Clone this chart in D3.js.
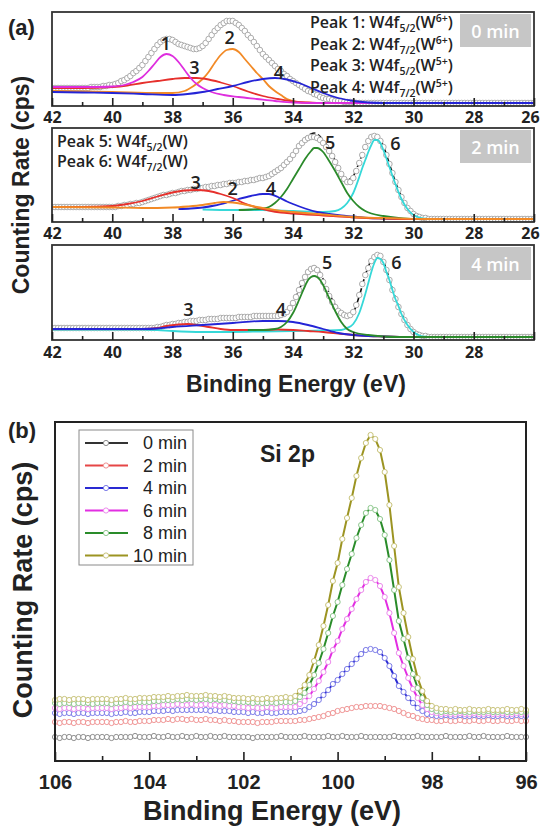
<!DOCTYPE html>
<html>
<head>
<meta charset="utf-8">
<script src="https://cdn.jsdelivr.net/npm/d3@7"></script>
<style>
  body { margin: 0; background: #fff; }
  svg { display: block; }
</style>
</head>
<body>
<svg id="chart" width="540" height="830"></svg>
<script>
// ---------- (a) W4f spectra, 42 -> 26 eV, one point per 0.1 eV ----------
const wEnergy = d3.range(161).map(i => +(42 - i * 0.1).toFixed(1));

const s1Counts = [
  18,18,18,18,18,18,18,18,18,18,18,18,18,19,19,
  19,19,20,20,21,21,
  22,23,25,26,28, 30,33,35,38,41, 45,49,53,57,61, 64,66,67,67,66,
  64,62,61,60,59, 58,57,57,58,60, 63,67,71,75,78, 81,83,85,85,85,
  83,81,78,75,71, 68,64,60,56,52, 49,46,43,40,37, 35,32,30,27,25,
  23,21,19,17,15, 14,12,11,9,8, 7,7,6,5,5, 5,4,4,4,4,
  3,3,3,3,3,3,3,3,3,3, 3,3,3,3,3,3,3,3,3,3, 3,3,3,3,3,3,3,3,3,3,
  3,3,3,3,3,3,3,3,3,3, 3,3,3,3,3,3,3,3,3,3, 3,3,3,3,3,3,3,3,3,3
];
const s2Counts = [
  15,15,15,15,15,15,15,15,15,15,15,15,15,15,15,15,15,15,15,15,15,
  15,16,16,17,17,18,18,19,19,20,
  21,22,23,24,25,26,27,27,28,29,
  29,30,31,31,32,32,33,33,34,34,
  35,35,36,36,37,37,38,38,39,39,
  39,40,40,41,41,42,42,43,44,44,
  45,46,48,50,52,54,57,60,63,67,
  71,76,79,82,84,85,85,84,82,79,
  75,71,66,60,54,48,43,40,40,44,
  51,59,67,75,81,85,86,85,81,75,
  67,58,49,40,32,25,19,14,11,8,
  6,5,4,4,3,
  3,3,3,3,3,3,3,3,3,3, 3,3,3,3,3,3,3,3,3,3, 3,3,3,3,3,3,3,3,3,3, 3,3,3,3,3
];
const s3Counts = [
  12,12,12,12,12,12,12,12,12,12, 12,12,12,12,12,12,12,12,12,12,
  12,12,12,12,12,12,12,12,12,12, 12,12,12,12,12,
  13,13,14,15,15,16,
  16,17,17,18,18,19,19,19,20,20,
  20,21,21,21,21,22,22,22,22,22,
  22,23,23,23,23,23,24,24,24,24,
  24,24,24,24,24,25,26,28,32,37,
  43,50,57,63,68,71,72,70,65,58,
  51,44,38,33,29,27,25,24,25,28,
  35,45,56,65,72,79,83,85,84,78,
  70,60,50,41,33,26,20,15,11,8,
  6,5,4,4,3,
  3,3,3,3,3,3,3,3,3,3, 3,3,3,3,3,3,3,3,3,3, 3,3,3,3,3,3,3,3,3,3, 3,3,3,3,3
];

// fitted components [eV, counts]
const s1Peak1 = [[42,19],[40.5,19],[40,19.5],[39.6,21],[39.3,24],[39,29],[38.8,35],[38.6,42],[38.4,49],[38.2,52],[38,50],[37.8,44],[37.6,36],[37.4,28],[37.2,22],[37,18],[36.7,14],[36.3,11],[35.8,9],[35.2,7],[34.6,5],[34,3.5],[33,3],[26,3]];
const s1Peak2 = [[42,15],[40,14],[38.5,13],[38,13],[37.6,15],[37.3,20],[37,27],[36.8,34],[36.6,43],[36.4,51],[36.2,56],[36,57],[35.8,54],[35.6,47],[35.4,40],[35.2,33],[35,27],[34.8,20],[34.6,15],[34.4,11],[34.2,7],[34,5],[33.7,3.5],[33,3],[26,3]];
const s1Peak3 = [[42,18],[41,18],[40,19],[39.5,20.5],[39,23],[38.5,25],[38,27],[37.6,28],[37.2,28],[36.8,26.5],[36.4,23.5],[36,20],[35.5,14.5],[35,10],[34.5,7],[34,4.5],[33.5,3.5],[33,3],[26,3]];
const s1Peak4 = [[42,14],[41,13.5],[40,13],[39,12],[38,11],[37.5,12],[37,14],[36.5,17],[36,20],[35.5,24],[35,27],[34.6,28],[34.2,26.5],[33.8,23],[33.4,18],[33,13],[32.5,8],[32,5],[31.5,3.5],[31,3],[26,3]];

const s2Peak2 = [[42,15],[40,14.5],[39,14],[38,14.5],[37.5,15.5],[37,17],[36.6,19],[36.3,20],[36,19.5],[35.6,17.5],[35.2,15],[34.8,13],[34.4,11],[34,10],[33,7.5],[32,5],[31,4],[30,3.2],[29.5,3],[26,3]];
const s2Peak3 = [[42,15],[41,15],[40,16],[39.5,18],[39,21],[38.5,25.5],[38,29.5],[37.6,31.5],[37.2,32],[36.8,31],[36.4,28],[36,24],[35.6,18.5],[35.2,14.5],[34.8,11.5],[34.4,9.5],[34,8.5],[33,6.5],[32,4.5],[31,3.5],[30,3],[26,3]];
const s2Peak4 = [[37.8,13],[37.4,13.5],[37,14.5],[36.6,16.5],[36.2,19.5],[35.8,23],[35.4,26],[35,28],[34.8,28],[34.5,25],[34.2,20.5],[34,18],[33.6,13.5],[33.2,10],[32.8,8],[32.4,6.5],[32,5.5],[31.5,4],[31,3.5],[30,3],[26,3]];
const s2Peak5 = [[35.8,12],[35.4,12.5],[35,13.5],[34.8,15],[34.6,19],[34.4,25],[34.2,33],[34,43],[33.8,53],[33.6,63],[33.4,71],[33.3,74],[33.2,74],[33,70],[32.8,61],[32.6,51],[32.4,40],[32.2,29],[32,21],[31.8,15],[31.6,11],[31.4,8.5],[31,6],[30.5,4],[30,3],[26,3]];
const s2Peak6 = [[37,12.5],[36,12],[35,12],[34,11],[33,10],[32.6,11],[32.4,13.5],[32.2,19],[32,29],[31.8,45],[31.7,54],[31.6,62],[31.5,70],[31.4,77],[31.3,82],[31.2,82],[31.1,79],[31,72],[30.8,55],[30.6,38],[30.5,30],[30.4,23],[30.2,13],[30,7],[29.8,4.5],[29.6,3.3],[29.4,3],[26,3]];
const s2Fit = [[42,15],[40,15],[39,20],[38,29],[37,34],[36,39],[35,44],[34.6,50],[34.3,57],[34,67],[33.8,76],[33.6,84],[33.4,88],[33.3,89],[33.2,88],[33,82],[32.8,73],[32.6,61],[32.4,49],[32.3,44],[32.2,42],[32.1,43],[32,46],[31.8,60],[31.6,76],[31.4,85],[31.3,86],[31.2,85],[31,76],[30.8,58],[30.6,40],[30.4,25],[30.2,14],[30,7],[29.8,4],[29.5,3],[26,3]];

const s3Peak3 = [[42,11],[39,11],[38.5,12],[38.2,14],[37.8,15.5],[37.5,16],[37.2,15],[36.8,13],[36.4,11],[36,10],[35,10],[34.5,10.5],[34,10],[33.5,9],[33,8],[32.5,6.5],[32,5],[31.5,4],[31,3.5],[30,3],[26,3]];
const s3Peak4 = [[42,11],[39,11],[38.5,11.5],[38,13],[37,15],[36,17],[35,19],[34.5,19],[34,18],[33.5,15],[33,11],[32.5,7],[32,5],[31.5,4],[31,3.5],[30,3],[26,3]];
const s3Peak5 = [[35.5,10],[35,10],[34.6,11],[34.4,13],[34.2,18],[34,27],[33.8,40],[33.6,54],[33.5,60],[33.4,63],[33.3,64],[33.2,63],[33.1,60],[33,55],[32.8,42],[32.6,29],[32.4,18],[32.2,11],[32,8],[31.5,5],[31,3.5],[30.5,3],[26,3]];
const s3Peak6 = [[42,10.5],[39,10.5],[38.5,10],[38,9],[37,8],[36,8],[35,8.5],[34,9],[33,9.5],[32.4,10],[32.2,12],[32,16],[31.8,27],[31.6,46],[31.5,57],[31.4,68],[31.3,77],[31.2,82],[31.1,81],[31,77],[30.9,68],[30.8,60],[30.7,50],[30.6,41],[30.5,34],[30.4,26],[30.2,15],[30,8],[29.8,4.5],[29.6,3.3],[29.4,3],[26,3]];
const s3Fit = [[42,12],[38.6,12],[38,16],[37,20],[36,22],[35,24],[34.4,25],[34.2,28],[34,37],[33.8,50],[33.6,63],[33.4,72],[33.3,74],[33.2,72],[33,61],[32.8,47],[32.6,35],[32.4,28],[32.2,25],[32,28],[31.8,44],[31.6,65],[31.4,80],[31.2,86],[31,79],[30.8,61],[30.6,42],[30.4,27],[30.2,16],[30,8],[29.8,4.5],[29.5,3],[26,3]];

// peak number labels [text, eV, counts]
const s1Marks = [['1', 38.23, 63], ['2', 36.1, 69], ['3', 37.27, 39], ['4', 34.47, 34]];
const s2Marks = [['3', 37.23, 40], ['2', 36.0, 34], ['4', 34.73, 34], ['5', 32.77, 80], ['6', 30.6, 79]];
const s3Marks = [['3', 37.47, 31], ['4', 34.4, 31], ['5', 32.87, 78], ['6', 30.57, 78]];

const wMajor = [42, 40, 38, 36, 34, 32, 30, 28, 26];
const wMinor = [41, 39, 37, 35, 33, 31, 29, 27];
const peakNames = [['1', '5/2', '6+'], ['2', '7/2', '6+'], ['3', '5/2', '5+'], ['4', '7/2', '5+']];
const peakNamesW = [['5', '5/2', ''], ['6', '7/2', '']];

// ---------- (b) Si 2p, 106 -> 96 eV, one point per 0.1 eV ----------
const siEnergy = d3.range(101).map(i => +(106 - i * 0.1).toFixed(1));
const si0 = [
  24,23,24,24,23,24,24,23,24,24, 24,24,23,24,24,24,24,25,24,24,
  24,25,24,24,25,24,24,25,24,24, 25,24,24,25,24,24,25,24,24,24,
  24,24,23,24,24,24,24,24,25,24, 24,24,24,25,24,24,24,24,25,24,
  24,25,24,24,24,25,24,24,24,24, 24,24,25,24,24,24,24,25,24,24,
  24,24,24,25,24,24,24,24,25,24, 24,25,24,24,24,24,25,24,24,24, 24
];
const si2 = [
  39,38,39,39,38,39,39,38,39,39, 39,39,38,39,39,40,39,39,40,40,
  40,41,41,41,42,41,42,42,41,42, 41,41,42,41,41,40,41,40,40,39,
  39,39,39,38,39,39,39,40,40,40, 40,40,41,41,42,43,44,45,47,48,
  50,51,52,53,54,54,55,55,55,55, 54,53,52,50,48,46,45,43,42,41,
  41,40,40,41,40,40,41,40,40,41, 40,40,41,40,40,41,40,40,41,40, 40
];
const si4 = [
  48,47,48,48,47,48,48,47,48,48, 48,48,47,48,48,49,48,48,49,49,
  49,50,50,50,51,50,51,51,51,51, 51,51,51,50,51,50,50,50,49,49,
  49,48,49,48,48,49,48,48,49,49, 49,49,50,51,54,57,61,66,71,77,
  81,87,92,97,102,107,111,112,111,109, 103,95,85,75,69,63,58,53,50,47,
  46,45,45,46,45,45,46,45,45,46, 45,45,46,45,45,46,45,45,46,45, 45
];
const si6 = [
  53,52,53,53,52,53,53,52,53,53, 53,53,52,53,53,54,53,54,54,54,
  54,55,55,56,56,56,57,56,56,57, 56,56,57,56,56,55,56,55,55,54,
  54,53,54,53,53,54,53,53,54,54, 54,54,57,60,65,72,80,89,99,111,
  120,132,142,152,162,171,179,183,181,175, 164,148,128,108,95,83,72,63,56,52,
  49,48,47,48,47,47,48,47,47,48, 47,47,48,47,47,48,47,47,48,47, 47
];
const si8 = [
  58,57,58,58,57,58,58,58,57,58, 58,58,57,58,58,59,58,59,59,59,
  59,60,60,61,61,61,62,61,62,62, 61,62,62,61,62,61,61,60,60,59,
  59,59,58,59,58,58,59,58,59,59, 59,60,64,68,76,86,98,112,128,145,
  159,176,192,207,223,236,248,253,251,242, 226,201,171,140,122,103,87,73,63,56,
  52,50,49,50,49,49,50,49,49,50, 49,49,50,49,49,50,49,49,50,49, 49
];
const si10 = [
  61,62,62,61,62,62,62,61,62,62, 62,62,61,62,62,63,62,62,63,63,
  63,64,64,64,65,64,65,65,66,65, 65,65,66,65,65,64,65,64,63,63,
  63,62,63,62,62,63,62,63,63,64, 63,65,70,76,86,100,116,135,156,180,
  198,222,243,263,285,303,318,326,322,311, 289,256,215,174,148,124,102,83,70,60,
  55,53,52,52,51,52,51,51,52,51, 51,51,52,51,51,51,52,51,51,52, 51
];
const siSeries = [
  { name: '0 min', values: si0, line: '#333333', dot: '#8c8c8c' },
  { name: '2 min', values: si2, line: '#e64646', dot: '#f09494' },
  { name: '4 min', values: si4, line: '#2a2ad2', dot: '#7c7ce8' },
  { name: '6 min', values: si6, line: '#e22ee2', dot: '#ec8cec' },
  { name: '8 min', values: si8, line: '#2a8c2a', dot: '#8ec88e' },
  { name: '10 min', values: si10, line: '#9c9422', dot: '#c9c47c' }
];
const siMajor = [106, 104, 102, 100, 98, 96];
const siMinor = [105, 103, 101, 99, 97];

// ---------- drawing ----------
const FA = "'Open Sans', 'DejaVu Sans', sans-serif";
const FB = "'Liberation Sans', Arial, sans-serif";
const svg = d3.select('#chart');

const C = {
  magenta: '#de2ede', red: '#e6302c', orange: '#f28a26',
  blue: '#2424d6', green: '#2b8a2b', cyan: '#36d8d8'
};

function xAxis(g, x, y0, majors, labels, minors, majLen, minLen, pad, font) {
  const major = d3.axisBottom(x).tickValues(majors).tickSize(-majLen).tickPadding(pad)
    .tickFormat(d => labels.includes(d) ? d : '');
  const ga = g.append('g').attr('transform', `translate(0,${y0})`).call(major);
  ga.select('.domain').remove();
  ga.selectAll('line').attr('stroke', '#222').attr('stroke-width', 1.6);
  ga.selectAll('text').attr('fill', '#222')
    .attr('font-family', font.family).attr('font-size', font.size).attr('font-weight', font.weight);

  const minor = d3.axisBottom(x).tickValues(minors).tickSize(-minLen).tickFormat('');
  const gm = g.append('g').attr('transform', `translate(0,${y0})`).call(minor);
  gm.select('.domain').remove();
  gm.selectAll('line').attr('stroke', '#222').attr('stroke-width', 1.6);
  return ga;
}

// ----- panel (a) -----
const xW = d3.scaleLinear().domain([42, 26]).range([52, 534]);

const subplots = [
  { top: 12, bottom: 106, counts: s1Counts, pad: 6, tag: '0 min', labels: wMajor, fit: null,
    comps: [[s1Peak2, C.orange], [s1Peak3, C.red], [s1Peak1, C.magenta], [s1Peak4, C.blue]], marks: s1Marks },
  { top: 128, bottom: 222, counts: s2Counts, pad: 6, tag: '2 min', labels: wMajor, fit: s2Fit,
    comps: [[s2Peak6, C.cyan], [s2Peak5, C.green], [s2Peak4, C.blue], [s2Peak3, C.red], [s2Peak2, C.orange]], marks: s2Marks },
  { top: 245, bottom: 340, counts: s3Counts, pad: 7, tag: '4 min', labels: wMajor.slice(0, -1), fit: s3Fit,
    comps: [[s3Peak6, C.cyan], [s3Peak3, C.red], [s3Peak4, C.blue], [s3Peak5, C.green]], marks: s3Marks }
];

subplots.forEach(sp => {
  const y = d3.scaleLinear().domain([0, sp.bottom - sp.top]).range([sp.bottom, sp.top]);
  const g = svg.append('g');
  const line = d3.line().x(d => xW(d[0])).y(d => y(d[1])).curve(d3.curveMonotoneX);

  g.append('clipPath').attr('id', 'clip' + sp.top)
    .append('rect').attr('x', 52).attr('y', sp.top).attr('width', 482).attr('height', sp.bottom - sp.top);
  const plot = g.append('g').attr('clip-path', `url(#clip${sp.top})`);

  // tag box
  g.append('rect').attr('x', 460).attr('y', sp.top + 2).attr('width', 71).attr('height', 33).attr('fill', '#c6c6c6');
  g.append('text').attr('x', 495.5).attr('y', sp.top + 19).attr('text-anchor', 'middle')
    .attr('dominant-baseline', 'central').attr('fill', '#fff')
    .attr('font-family', FA).attr('font-size', 18).attr('font-weight', 600).text(sp.tag);

  // envelope fit sits under the measured points, shows where it rises above them
  if (sp.fit) {
    plot.append('path').datum(sp.fit).attr('d', line)
      .attr('fill', 'none').attr('stroke', '#111').attr('stroke-width', 1.6)
      .attr('stroke-dasharray', '6,3');
  }

  // measured points
  plot.selectAll('circle.pt').data(sp.counts).join('circle')
    .attr('class', 'pt')
    .attr('cx', (d, i) => xW(wEnergy[i]))
    .attr('cy', d => y(d))
    .attr('r', 2.8)
    .attr('fill', '#fff')
    .attr('stroke', '#adadad')
    .attr('stroke-width', 1);

  // components
  sp.comps.forEach(([data, col]) => {
    plot.append('path').datum(data).attr('d', line)
      .attr('fill', 'none').attr('stroke', col).attr('stroke-width', 1.8);
  });

  // peak numbers
  g.selectAll('text.mark').data(sp.marks).join('text')
    .attr('class', 'mark')
    .attr('x', d => xW(d[1])).attr('y', d => y(d[2]))
    .attr('text-anchor', 'middle').attr('dominant-baseline', 'central')
    .attr('font-family', FA).attr('font-size', 18).attr('font-weight', 600).attr('fill', '#222')
    .text(d => d[0]);

  // frame + axis
  g.append('rect').attr('x', 52).attr('y', sp.top).attr('width', 482).attr('height', sp.bottom - sp.top)
    .attr('fill', 'none').attr('stroke', '#333').attr('stroke-width', 1.8);
  const ga = xAxis(g, xW, sp.bottom, wMajor, sp.labels, wMinor, 8, 4, sp.pad, { family: FA, size: 16, weight: 700 });
  ga.selectAll('text').filter(d => d === 26).attr('dx', -4);
});

function peakText(x, y, n, sub, sup) {
  const t = svg.append('text').attr('x', x).attr('y', y)
    .attr('font-family', FA).attr('font-size', 16).attr('font-weight', 600).attr('fill', '#222');
  t.append('tspan').text(`Peak ${n}: W4f`);
  t.append('tspan').attr('font-size', 10.5).attr('dy', 4).text(sub);
  t.append('tspan').attr('dy', -4).text('(W');
  if (sup) {
    t.append('tspan').attr('font-size', 10.5).attr('dy', -6).text(sup);
    t.append('tspan').attr('dy', 6).text(')');
  } else {
    t.append('tspan').text(')');
  }
}
peakNames.forEach((p, i) => peakText(310, 28 + i * 21.6, p[0], p[1], p[2]));
peakNamesW.forEach((p, i) => peakText(57, 147 + i * 20, p[0], p[1], p[2]));

svg.append('text').attr('x', 8).attr('y', 35)
  .attr('font-family', FB).attr('font-size', 22).attr('font-weight', 700).attr('fill', '#222').text('(a)');
svg.append('text').attr('transform', 'translate(21,185) rotate(-90)')
  .attr('text-anchor', 'middle').attr('dominant-baseline', 'central')
  .attr('font-family', FB).attr('font-size', 23).attr('font-weight', 700).attr('fill', '#222')
  .text('Counting Rate (cps)');
svg.append('text').attr('x', 296).attr('y', 384).attr('text-anchor', 'middle').attr('dominant-baseline', 'central')
  .attr('font-family', FB).attr('font-size', 23).attr('font-weight', 700).attr('fill', '#222')
  .text('Binding Energy (eV)');

// ----- panel (b) -----
const xS = d3.scaleLinear().domain([106, 96]).range([55, 526]);
const yS = d3.scaleLinear().domain([0, 339]).range([761, 422]);
const gb = svg.append('g');
const siLine = d3.line().x((d, i) => xS(siEnergy[i])).y(d => yS(d));

siSeries.forEach(s => {
  const gs = gb.append('g');
  gs.append('path').datum(s.values).attr('d', siLine)
    .attr('fill', 'none').attr('stroke', s.line).attr('stroke-width', 2);
  gs.selectAll('circle').data(s.values).join('circle')
    .attr('cx', (d, i) => xS(siEnergy[i]))
    .attr('cy', d => yS(d))
    .attr('r', 2.6)
    .attr('fill', '#fff')
    .attr('stroke', s.dot)
    .attr('stroke-width', 1);
});

gb.append('rect').attr('x', 55).attr('y', 422).attr('width', 471).attr('height', 339)
  .attr('fill', 'none').attr('stroke', '#222').attr('stroke-width', 2);
xAxis(gb, xS, 761, siMajor, siMajor, siMinor, 9, 5, 14, { family: FB, size: 20, weight: 700 });

// legend
const lg = gb.append('g');
lg.append('rect').attr('x', 79).attr('y', 430).attr('width', 114).attr('height', 135)
  .attr('fill', '#fff').attr('stroke', '#8a8a8a').attr('stroke-width', 1);
siSeries.forEach((s, i) => {
  const ly = 443 + i * 22.5;
  lg.append('line').attr('x1', 85).attr('x2', 128).attr('y1', ly).attr('y2', ly)
    .attr('stroke', s.line).attr('stroke-width', 2);
  lg.append('circle').attr('cx', 106).attr('cy', ly).attr('r', 2.6)
    .attr('fill', '#fff').attr('stroke', s.dot).attr('stroke-width', 1);
  lg.append('text').attr('x', 187).attr('y', ly).attr('text-anchor', 'end').attr('dominant-baseline', 'central')
    .attr('font-family', FB).attr('font-size', 18).attr('fill', '#222').text(s.name);
});

gb.append('text').attr('x', 260).attr('y', 454).attr('dominant-baseline', 'central')
  .attr('font-family', FB).attr('font-size', 23).attr('font-weight', 700).attr('fill', '#222').text('Si 2p');

svg.append('text').attr('x', 8).attr('y', 438)
  .attr('font-family', FB).attr('font-size', 22).attr('font-weight', 700).attr('fill', '#222').text('(b)');
svg.append('text').attr('transform', 'translate(23,590) rotate(-90)')
  .attr('text-anchor', 'middle').attr('dominant-baseline', 'central')
  .attr('font-family', FB).attr('font-size', 27).attr('font-weight', 700).attr('fill', '#222')
  .text('Counting Rate (cps)');
svg.append('text').attr('x', 272).attr('y', 811).attr('text-anchor', 'middle').attr('dominant-baseline', 'central')
  .attr('font-family', FB).attr('font-size', 27).attr('font-weight', 700).attr('fill', '#222')
  .text('Binding Energy (eV)');
</script>
</body>
</html>
